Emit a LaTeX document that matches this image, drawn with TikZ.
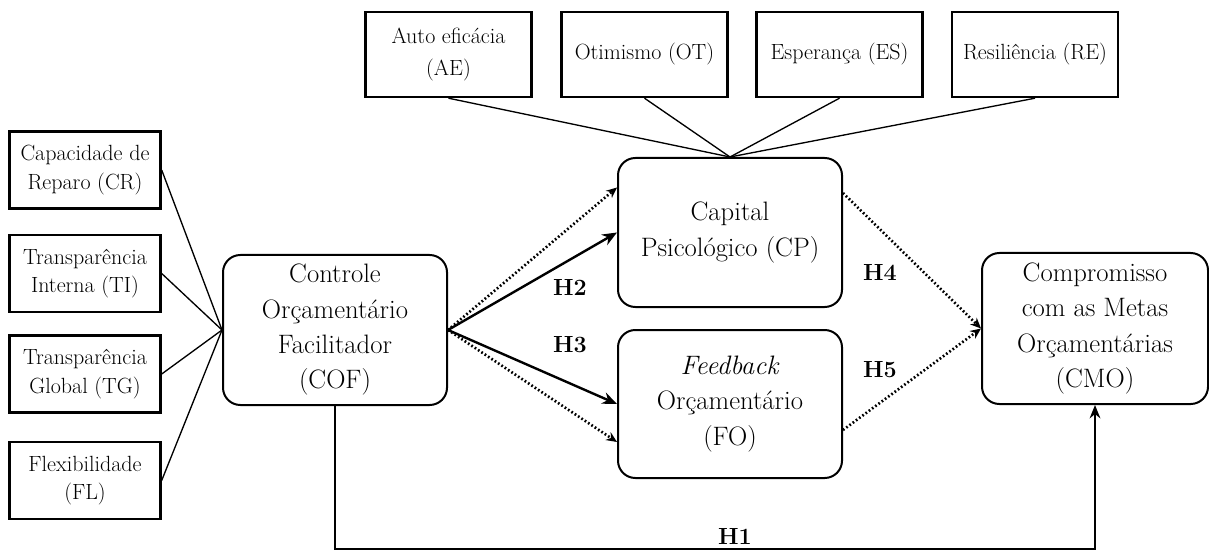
\documentclass[tikz,border=0pt]{standalone}
\usetikzlibrary{arrows.meta,calc}
\begin{document}
\begin{tikzpicture}[x=0.75pt,y=-0.75pt,
  smallbox/.style={draw,line width=1.8pt,minimum width=113.25pt,minimum height=57.75pt,align=center,inner sep=0pt,font=\fontsize{16.5}{21.5}\selectfont},
  topbox/.style={draw,line width=1.8pt,minimum width=124.5pt,minimum height=63.75pt,align=center,inner sep=0pt,font=\fontsize{16.5}{24.5}\selectfont},
  bigbox/.style={draw,line width=1.5pt,rounded corners=13pt,minimum width=168pt,minimum height=112pt,align=center,inner sep=0pt,font=\fontsize{20}{26.5}\selectfont},
  thin/.style={line width=1pt},
  solidarr/.style={line width=1.8pt,-{Stealth[length=11pt,width=9pt]}},
  dotarr/.style={line width=2pt,dash pattern=on 1.3pt off 1.7pt,-{Stealth[length=8pt,width=7pt]}},
  hlab/.style={font=\fontsize{17.5}{17.5}\selectfont\bfseries}
]
\useasboundingbox (0,0) rectangle (1209,552);

% left indicator boxes
\node[smallbox] (CR) at (85,170) {Capacidade de\\Reparo (CR)};
\node[smallbox] (TI) at (85,273.5) {Transparência\\Interna (TI)};
\node[smallbox] (TG) at (85,374) {Transparência\\Global (TG)};
\node[smallbox] (FL) at (85,480.5) {Flexibilidade\\(FL)};

% top indicator boxes
\node[topbox] (AE) at (448.5,54.5) {Auto eficácia\\(AE)};
\node[topbox] (OT) at (644.5,54.5) {Otimismo (OT)};
\node[topbox] (ES) at (839.5,54.5) {Esperança (ES)};
\node[topbox] (RE) at (1035,54.5) {Resiliência (RE)};

% constructs
\node[bigbox,minimum height=112.5pt] (COF) at (335,330) {Controle\\Orçamentário\\Facilitador\\(COF)};
\node[bigbox,minimum height=111.75pt] (CP) at (730,232.5) {Capital\\Psicológico (CP)};
\node[bigbox,minimum height=111pt] (FO) at (730,404) {\textit{Feedback}\\Orçamentário\\(FO)};
\node[bigbox,minimum width=169.5pt,minimum height=113.25pt] (CMO) at (1095,328.5) {Compromisso\\com as Metas\\Orçamentárias\\(CMO)};

% indicator connectors
\foreach \b in {CR,TI,TG,FL} \draw[thin] (\b.east) -- (COF.west);
\foreach \b in {AE,OT,ES,RE} \draw[thin] (\b.south) -- (CP.north);

% hypotheses arrows
\draw[dotarr] (COF.east) -- ($(CP.west)+(0,-45)$);
\draw[solidarr] (COF.east) -- (CP.west);
\draw[solidarr] (COF.east) -- (FO.west);
\draw[dotarr] (COF.east) -- ($(FO.west)+(0,38)$);
\draw[dotarr] ($(CP.east)+(0,-39.5)$) -- (CMO.west);
\draw[dotarr] ($(FO.east)+(0,26)$) -- (CMO.west);

\coordinate (bot) at (0,549);
\draw[line width=1.5pt,-{Stealth[length=10pt,width=8pt]}] (COF.south) -- (COF.south |- bot) -| (CMO.south);

% labels
\node[hlab] (H2) at (570,287) {H2};
\node[hlab] (H3) at (570,345) {H3};
\node[hlab] (H4) at (880,272) {H4};
\node[hlab] (H5) at (880,370) {H5};
\node[hlab] (H1) at (735,536) {H1};
\end{tikzpicture}
\end{document}
